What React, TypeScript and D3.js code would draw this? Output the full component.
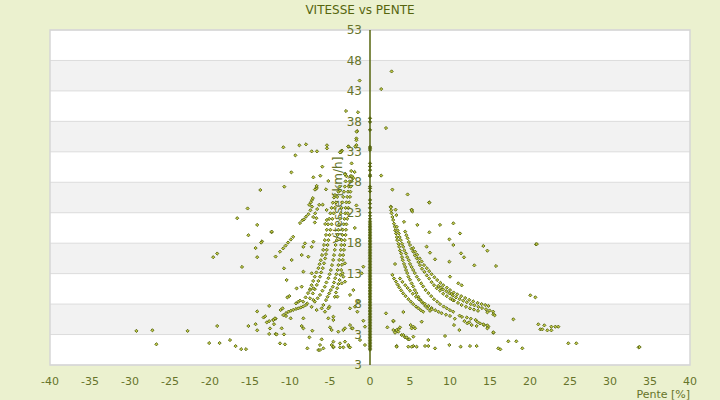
import React from 'react'
import * as d3 from 'd3'

// pente [%] / vitesse [km/h]
const xTicks = [-40, -35, -30, -25, -20, -15, -10, -5, 0, 5, 10, 15, 20, 25, 30, 35, 40]
const yTicks = [-2, 3, 8, 13, 18, 23, 28, 33, 38, 43, 48, 53]
const yTickLabels = ['3', '3', '8', '13', '18', '23', '28', '33', '38', '43', '48', '53']

// points recorded on flat ground (pente = 0)
const flatSpeeds = [
  0.5, 0.75, 1.0, 1.25, 1.5, 1.75, 2.0, 2.25, 2.5, 2.75, 3.0, 3.25, 3.5, 3.75, 4.0, 4.25, 4.5,
  4.75, 5.0, 5.25, 5.5, 5.75, 6.0, 6.25, 6.5, 6.75, 7.0, 7.25, 7.5, 7.75, 8.0, 8.25, 8.5, 8.75,
  9.0, 9.25, 9.5, 9.75, 10.0, 10.25, 10.5, 10.75, 11.0, 11.25, 11.5, 11.75, 12.0, 12.25, 12.5,
  12.75, 13.0, 13.25, 13.5, 13.75, 14.0, 14.25, 14.5, 14.75, 15.0, 15.25, 15.5, 15.75, 16.0,
  16.25, 16.5, 16.75, 17.0, 17.25, 17.5, 17.75, 18.0, 18.25, 18.5, 18.75, 19.0, 19.25, 19.5,
  19.75, 20.0, 20.25, 20.5, 20.75, 21.0, 21.3, 21.6, 22.0, 22.5, 23.0, 23.8, 24.5,
  25.1, 26.5, 27.0, 27.3, 29.0, 29.2, 30.0, 30.6, 31.1, 33.3, 33.6, 33.8, 36.6, 37.9, 38.5,
]

// descents (negative slope), dense chains
const descentChains: [number, number][] = [
  [-8.35, 8.4], [-8.05, 9.1], [-7.75, 9.8], [-7.5, 10.45], [-7.3, 11.1], [-7.1, 11.8], [-6.9, 12.5],
  [-6.7, 13.2], [-6.45, 13.9], [-6.3, 14.55], [-6.15, 15.2], [-6.0, 16.05], [-5.85, 16.9], [-5.75, 17.7],
  [-5.65, 18.5], [-5.5, 19.35], [-5.4, 20.2], [-5.25, 21.1], [-5.1, 22.0], [-4.95, 22.9], [-4.8, 23.8],
  [-4.65, 24.65], [-4.5, 25.5],
  [-7.85, 8.1], [-7.5, 8.95], [-7.15, 9.75], [-6.9, 10.45], [-6.65, 11.15], [-6.45, 11.8], [-6.25, 12.5],
  [-6.1, 13.2], [-5.9, 13.9], [-5.75, 14.7], [-5.6, 15.5], [-5.5, 16.2], [-5.4, 16.9], [-5.3, 17.7],
  [-5.2, 18.5], [-5.05, 19.35], [-4.95, 20.2], [-4.8, 21.1], [-4.7, 22.0], [-4.55, 22.9], [-4.4, 23.8],
  [-4.25, 24.7], [-4.1, 25.6], [-3.95, 26.45], [-3.8, 27.3],
  [-7.3, 7.55], [-6.9, 8.4], [-6.55, 8.95], [-6.25, 9.5], [-5.95, 10.2], [-5.65, 10.85], [-5.45, 11.55],
  [-5.2, 12.25], [-5.05, 12.9], [-4.9, 13.6], [-4.75, 14.4], [-4.6, 15.25], [-4.5, 16.05], [-4.4, 16.9],
  [-4.3, 17.7], [-4.15, 18.5], [-4.05, 19.35], [-3.95, 20.2], [-3.85, 21.1], [-3.75, 22.0], [-3.65, 22.9],
  [-3.55, 23.8], [-3.45, 24.7], [-3.35, 25.6], [-3.25, 26.45], [-3.15, 27.3], [-3.05, 28.15], [-2.95, 29.0],
  [-5.5, 8.65], [-5.3, 9.2], [-5.1, 9.75], [-4.9, 10.3], [-4.65, 10.85], [-4.5, 11.55], [-4.35, 12.25],
  [-4.2, 12.9], [-4.05, 13.6], [-3.95, 14.4], [-3.85, 15.25], [-3.75, 16.05], [-3.65, 16.9], [-3.6, 17.7],
  [-3.55, 18.5], [-3.45, 19.35], [-3.4, 20.2], [-3.3, 21.1], [-3.2, 22.0], [-3.1, 22.9], [-3.05, 23.8],
  [-2.95, 24.7], [-2.85, 25.6], [-2.75, 26.45], [-2.65, 27.3], [-2.55, 28.15], [-2.45, 29.0], [-2.35, 29.85],
  [-4.4, 9.2], [-4.25, 9.9], [-4.1, 10.6], [-3.95, 11.3], [-3.8, 11.95], [-3.7, 12.8], [-3.6, 13.6],
  [-3.5, 14.45], [-3.4, 15.25], [-3.35, 16.05], [-3.25, 16.9], [-3.2, 17.7], [-3.15, 18.5], [-3.05, 19.35],
  [-3.0, 20.2], [-2.95, 21.1], [-2.85, 22.0], [-2.8, 22.9], [-2.7, 23.8], [-2.6, 24.7], [-2.5, 25.6],
  [-2.45, 26.45], [-2.4, 27.3], [-2.3, 28.15], [-2.25, 29.0],
  [-10.85, 6.2], [-10.5, 6.5], [-10.2, 6.75], [-9.9, 6.9], [-9.6, 7.05], [-9.25, 7.2], [-8.95, 7.3],
  [-8.65, 7.45], [-8.35, 7.6], [-8.0, 7.85],
  [-11.25, 16.6], [-10.85, 17.15], [-10.55, 17.6], [-10.25, 18.1], [-9.9, 18.6], [-9.6, 19.05],
  [-8.75, 21.3], [-8.45, 21.75], [-8.25, 21.9], [-8.0, 22.35], [-7.7, 22.75], [-7.45, 23.4], [-7.25, 24.0],
  [-7.6, 24.3], [-7.4, 24.7], [-7.25, 25.1], [-7.15, 25.4],
  [-7.1, 22.3], [-6.85, 22.9], [-6.6, 23.6], [-6.35, 24.3],
  [-6.9, 21.4], [-6.7, 22.1], [-5.6, 21.15], [-5.4, 21.8],
]

// climbs (positive slope), dense chains
const climbChains: [number, number][] = [
  [2.6, 24.0], [2.65, 23.4], [2.7, 22.9], [2.8, 22.3], [2.9, 21.8], [3.0, 21.2], [3.1, 20.7], [3.15, 20.1],
  [3.25, 19.6], [3.35, 19.0], [3.4, 18.5], [3.55, 17.9], [3.65, 17.4], [3.75, 16.8], [3.9, 16.3], [4.0, 15.7],
  [4.1, 15.2], [4.25, 14.6], [4.4, 14.1], [4.5, 13.6], [4.65, 13.1], [4.8, 12.5], [5.0, 12.0], [5.2, 11.4],
  [5.4, 10.9], [5.6, 10.3], [5.8, 9.8], [6.05, 9.2], [6.3, 8.7], [6.6, 8.2], [6.9, 7.7], [7.2, 7.3], [7.5, 6.9],
  [3.35, 20.7], [3.45, 20.1], [3.6, 19.6], [3.7, 19.0], [3.85, 18.5], [4.0, 17.9], [4.15, 17.4], [4.3, 16.8],
  [4.5, 16.3], [4.65, 15.7], [4.85, 15.2], [5.0, 14.6], [5.2, 14.1], [5.4, 13.6], [5.6, 13.1], [5.85, 12.5],
  [6.1, 12.0], [6.4, 11.4], [6.65, 10.9], [6.95, 10.3], [7.3, 9.8], [7.65, 9.3], [8.0, 8.8], [8.4, 8.4],
  [8.75, 8.0], [9.2, 7.6], [9.6, 7.3], [10.0, 7.0], [10.4, 6.75],
  [4.4, 19.9], [4.55, 19.3], [4.7, 18.8], [4.85, 18.2], [5.0, 17.7], [5.2, 17.1], [5.4, 16.6], [5.6, 16.0],
  [5.85, 15.5], [6.05, 14.9], [6.25, 14.4], [6.5, 13.8], [6.8, 13.3], [7.1, 12.7], [7.4, 12.2], [7.7, 11.6],
  [8.0, 11.1], [8.35, 10.6], [8.75, 10.2], [9.15, 9.7], [9.6, 9.3], [10.05, 8.9], [10.5, 8.6], [11.0, 8.2],
  [11.45, 7.85], [12.0, 7.55], [12.5, 7.3], [13.0, 7.1], [13.5, 6.9],
  [5.4, 17.2], [5.65, 16.6], [5.9, 16.1], [6.2, 15.5], [6.45, 15.0], [6.75, 14.4], [7.1, 13.9], [7.4, 13.4],
  [7.7, 12.9], [8.05, 12.4], [8.4, 11.95], [8.8, 11.5], [9.15, 11.1], [9.6, 10.7], [10.0, 10.3], [10.45, 9.9],
  [10.9, 9.6], [11.4, 9.3], [11.9, 9.0], [12.4, 8.7], [12.9, 8.45], [13.45, 8.2], [13.95, 8.0], [14.4, 7.85],
  [14.8, 7.7],
  [8.55, 11.0], [8.85, 10.7], [9.15, 10.4], [9.55, 10.1], [9.9, 9.8], [10.35, 9.4], [10.75, 9.1], [11.2, 8.8],
  [11.65, 8.55], [12.1, 8.3], [12.6, 8.0], [13.05, 7.8], [13.55, 7.55], [14.0, 7.35], [14.5, 7.15],
  [14.95, 6.95], [15.4, 6.75],
  [2.8, 12.8], [3.0, 12.2], [3.25, 11.7], [3.45, 11.2], [3.65, 10.75], [3.9, 10.25], [4.15, 9.75], [4.45, 9.3],
  [4.8, 8.8], [5.1, 8.4], [5.4, 8.0], [5.75, 7.6], [6.05, 7.3], [6.35, 7.0], [6.65, 6.75],
  [3.75, 12.2], [4.05, 11.65], [4.4, 11.1], [4.7, 10.65], [5.0, 10.2], [5.35, 9.7], [5.75, 9.2], [6.1, 8.8],
  [6.45, 8.4], [6.85, 8.05], [7.3, 7.7], [7.7, 7.35], [8.15, 7.0], [8.55, 6.75], [8.95, 6.5], [9.5, 6.25],
  [10.0, 6.05],
]

// isolated points
const looseDescent: [number, number][] = [
  [-15.3, 23.7], [-16.6, 22.1], [-14.1, 21.0], [-15.2, 19.3], [-12.3, 19.8], [-13.5, 18.3], [-13.6, 18.1],
  [-14.3, 17.2], [-19.1, 16.3], [-19.6, 15.7], [-14.1, 15.7], [-11.8, 15.8], [-16.0, 14.1], [-12.6, 7.7],
  [-14.1, 6.8], [-13.3, 5.8], [-13.1, 6.0], [-12.9, 5.0], [-12.6, 5.2], [-12.1, 5.4], [-11.8, 5.6],
  [-12.0, 4.7], [-12.5, 4.0], [-14.1, 3.7], [-14.3, 4.7], [-15.2, 4.4], [-19.1, 4.4], [-22.8, 3.6],
  [-27.2, 3.7], [-29.2, 3.6], [-26.7, 1.4], [-20.1, 1.6], [-18.8, 1.6], [-17.5, 2.1], [-16.8, 1.1],
  [-16.1, 0.6], [-15.5, 0.6], [-12.6, 3.1], [-11.8, 3.1],
  [-1.3, 44.7], [-3.0, 39.7], [-1.5, 39.5], [-1.6, 36.4], [-1.7, 35.2], [-1.7, 34.9], [-2.7, 33.9],
  [-1.7, 34.1], [-3.5, 33.2], [-3.6, 33.0], [-2.3, 31.1], [-3.1, 29.4], [-2.1, 28.7], [-1.67, 36.3],
  [-10.83, 33.74], [-8.83, 34.07], [-8.0, 34.23], [-9.33, 32.42], [-7.29, 33.08], [-6.63, 33.08],
  [-5.38, 34.07], [-5.38, 33.57], [-3.63, 33.08], [-2.71, 33.85], [-1.83, 33.85], [-5.96, 30.56],
  [-9.83, 29.63], [-1.92, 29.69], [-7.08, 28.81], [-5.21, 28.21], [-10.71, 27.28], [-6.67, 27.17],
  [-6.71, 26.95], [-5.5, 26.84], [-13.71, 26.73], [-3.75, 26.62], [-4.38, 25.91], [-5.92, 24.32],
  [-5.42, 23.45], [-3.75, 32.9], [-6.21, 29.08], [-3.13, 29.3], [-6.67, 27.4], [-6.88, 26.8],
  [-12.29, 19.9], [-8.33, 17.4], [-7.29, 17.4], [-7.08, 18.24], [-8.13, 17.97], [-9.79, 15.24],
  [-8.54, 16.06], [-7.71, 15.78], [-7.29, 13.05], [-8.33, 13.32], [-10.42, 11.95], [-10.75, 13.87],
  [-3.13, 14.69], [-3.54, 11.4], [-4.08, 9.22], [-5.08, 7.57], [-1.9, 20.5], [-1.7, 24.2],
  [-12.08, 5.38], [-11.88, 5.66], [-11.17, 7.03], [-10.92, 7.3], [-10.33, 9.1], [-10.08, 9.32],
  [-9.25, 8.12], [-8.96, 8.39], [-8.75, 8.56], [-9.17, 10.58], [-8.54, 10.86], [-7.5, 10.31], [-7.08, 10.58],
  [-4.58, 5.93], [-4.58, 5.38], [-5.21, 5.66], [-5.0, 4.18], [-4.79, 3.74], [-3.96, 3.47], [-3.13, 4.02],
  [-2.5, 4.56], [-2.29, 4.02], [-7.21, 3.63], [-7.58, 2.54], [-6.04, 2.21], [-6.25, 1.28], [-5.83, 0.73],
  [-4.79, 1.28], [-4.58, 0.9], [-3.75, 0.9], [-3.33, 0.9], [-3.13, 1.83], [-2.63, 1.01], [-7.83, 0.73],
  [-6.46, 0.46], [-6.25, 0.46], [-11.25, 1.55], [-10.63, 1.39], [-11.67, 3.03], [-10.75, 3.03],
  [-11.04, 4.02], [-10.5, 6.04], [-9.92, 5.66], [-8.33, 5.66], [-8.33, 4.02], [-8.54, 4.4],
  [-7.08, 8.67], [-6.67, 7.03], [-6.04, 7.3], [-5.83, 7.85], [-5.63, 6.75], [-5.21, 7.3],
  [-3.33, 12.5], [-3.13, 11.68], [-3.42, 13.05], [-2.5, 9.5], [-2.08, 10.3], [-1.04, 13.05],
  [-0.83, 14.14], [-1.46, 8.4], [-1.88, 7.57], [-2.5, 7.3], [-1.58, 6.75], [-2.17, 4.02], [-3.33, 3.74],
  [-0.83, 5.27], [-0.63, 4.29], [-2.71, 1.28], [-2.5, 0.9], [-0.63, 1.28], [-1.25, 2.1], [-3.75, 1.55],
  [-4.58, 1.83], [-4.58, 1.0],
]

const looseClimb: [number, number][] = [
  [2.7, 46.2], [1.4, 43.3], [2.0, 36.9], [1.4, 29.1], [2.8, 26.8], [4.7, 26.0], [7.4, 24.7], [2.6, 23.9],
  [3.2, 23.5], [5.2, 23.5], [5.3, 23.2], [3.3, 22.6], [7.42, 24.65], [5.21, 23.45], [4.25, 21.5],
  [5.92, 21.0], [8.75, 21.0], [10.42, 21.26], [7.42, 19.78], [11.25, 19.6], [9.92, 18.63], [10.42, 17.7],
  [7.08, 17.43], [14.17, 17.54], [14.67, 16.77], [7.5, 16.44], [11.38, 16.33], [11.75, 15.68], [8.13, 15.35],
  [9.92, 14.96], [13.04, 14.36], [15.75, 14.25], [3.13, 14.58], [10.0, 12.5], [11.04, 11.41], [11.46, 11.08],
  [10.21, 9.65], [10.33, 8.67], [7.71, 7.14], [2.0, 6.48], [4.17, 6.7], [2.92, 5.17], [2.17, 4.18],
  [3.54, 3.85], [3.13, 3.3], [3.96, 2.92], [4.38, 2.54], [4.79, 2.21], [5.42, 2.65], [5.08, 4.56],
  [5.21, 4.02], [6.46, 5.11], [7.29, 2.1], [9.38, 2.76], [9.92, 1.28], [10.5, 4.56], [11.17, 3.74],
  [3.33, 1.12], [4.79, 1.01], [5.42, 1.12], [6.88, 1.12], [7.29, 1.12], [8.13, 0.73], [11.33, 1.01],
  [12.5, 1.12], [13.33, 1.12], [16.04, 0.73], [15.42, 3.3], [14.79, 4.29], [14.25, 4.56], [13.33, 4.4],
  [12.71, 4.56], [12.17, 4.84], [20.75, 17.81], [20.85, 17.85], [20.04, 9.44], [20.67, 9.11],
  [14.67, 6.65], [15.42, 6.32], [15.58, 6.16], [17.92, 5.5], [13.75, 4.84], [14.17, 4.68], [14.67, 4.51],
  [14.67, 4.02], [15.42, 3.36], [21.04, 4.68], [21.79, 4.51], [21.29, 3.86], [21.54, 3.86], [22.17, 3.69],
  [22.67, 4.29], [22.67, 3.69], [23.17, 4.29], [23.54, 4.29], [17.29, 1.89], [18.29, 1.89], [16.29, 0.57],
  [19.04, 0.74], [24.79, 1.56], [25.79, 1.56], [33.58, 0.9], [33.7, 0.95],
  [11.2, 6.1], [11.5, 5.9], [12.1, 5.8], [12.6, 5.6], [13.2, 5.4], [11.8, 5.2], [12.4, 5.0], [13.4, 5.1],
  [10.6, 5.6], [2.92, 5.27], [2.92, 3.74], [3.33, 3.74], [3.54, 3.47], [4.17, 2.92], [4.58, 2.54],
  [4.92, 2.21], [3.33, 1.0], [5.21, 1.0], [5.83, 1.0], [5.42, 4.29], [5.63, 4.02], [3.75, 4.18],
]

const W = 720
const H = 400
const M = { left: 50, right: 690, top: 30, bottom: 365 }
const olive = '#56650e'
const textCol = '#66742a'
const diamond = 'M0,-1.6L1.6,0L0,1.6L-1.6,0Z'

export default function App() {
  const x = d3.scaleLinear().domain([-40, 40]).range([M.left, M.right])
  const y = d3.scaleLinear().domain([-2, 53]).range([M.bottom, M.top])

  const points: [number, number][] = [
    ...flatSpeeds.map((v) => [0, v] as [number, number]),
    ...descentChains,
    ...climbChains,
    ...looseDescent,
    ...looseClimb,
  ]

  return (
    <svg width={W} height={H} style={{ position: 'absolute', left: 0, top: 0, background: '#ebf1cf' }}
      fontFamily="'DejaVu Sans', sans-serif">
      <rect x={0} y={0} width={W} height={H} fill="#ebf1cf" />
      <text x={W / 2} y={14} textAnchor="middle" fontSize={12} fill={olive}>VITESSE vs PENTE</text>

      <rect x={M.left} y={M.top} width={M.right - M.left} height={M.bottom - M.top} fill="#fff" />
      {d3.range(yTicks.length - 1).map((i) =>
        i % 2 === 1 ? (
          <rect key={'b' + i} x={M.left} y={y(yTicks[i + 1])} width={M.right - M.left}
            height={y(yTicks[i]) - y(yTicks[i + 1])} fill="#f2f2f2" />
        ) : null
      )}
      {yTicks.map((t) => (
        <line key={'g' + t} x1={M.left} x2={M.right} y1={y(t)} y2={y(t)} stroke="#dcdcdc" strokeWidth={1} />
      ))}
      <rect x={M.left} y={M.top} width={M.right - M.left} height={M.bottom - M.top} fill="none"
        stroke="#d6d6d6" strokeWidth={1.5} />

      <text transform={`translate(${x(0) - 28},200) rotate(-90)`} textAnchor="middle" fontSize={12}
        fill={textCol}>Vitesse [km/h]</text>

      <line x1={x(0)} x2={x(0)} y1={M.top} y2={M.bottom} stroke={olive} strokeWidth={1.5} />

      <g>
        {points.map(([p, v], i) => (
          <path key={i} d={diamond} transform={`translate(${x(p)},${y(v)})`}
            fill={p === 0 ? olive : '#c4cb48'} stroke={olive} strokeWidth={0.9} />
        ))}
      </g>

      {yTicks.map((t, i) => (
        <text key={'yl' + i} x={x(0) - 8} y={y(t)} dy="0.35em" textAnchor="end" fontSize={12} fill={textCol}>
          {yTickLabels[i]}
        </text>
      ))}
      {xTicks.map((t) => (
        <text key={'xl' + t} x={x(t)} y={381} dy="0.35em" textAnchor="middle" fontSize={11} fill={textCol}>
          {t}
        </text>
      ))}
      <text x={M.right} y={398} textAnchor="end" fontSize={11} fill={textCol}>Pente [%]</text>
    </svg>
  )
}
